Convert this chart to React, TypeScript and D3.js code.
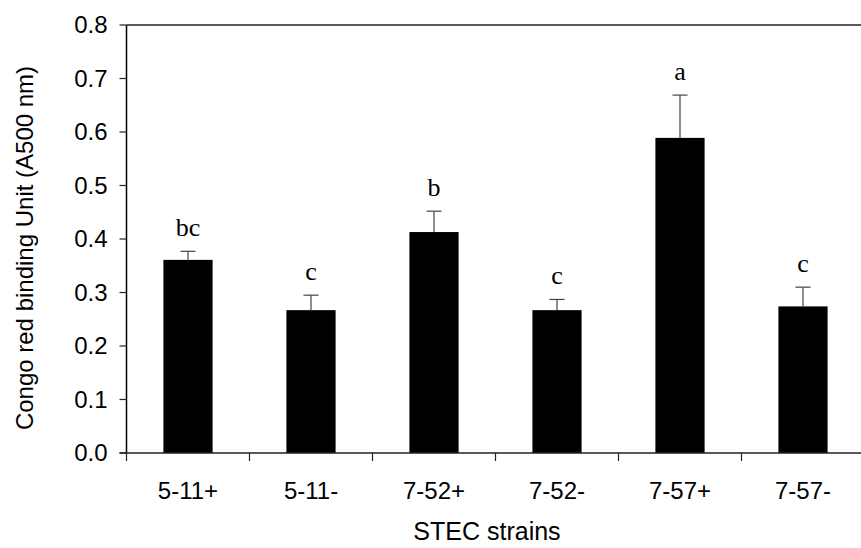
import React from "react";
import * as d3 from "d3";

const categories = ["5-11+", "5-11-", "7-52+", "7-52-", "7-57+", "7-57-"];
const means = [0.361, 0.267, 0.413, 0.267, 0.589, 0.274];
const errors = [0.016, 0.028, 0.039, 0.020, 0.080, 0.036];
const letters = ["bc", "c", "b", "c", "a", "c"];
const yTicks = [0, 0.1, 0.2, 0.3, 0.4, 0.5, 0.6, 0.7, 0.8];

const W = 861;
const H = 548;
const left = 126.5;
const top = 25;
const bottom = 453;
const step = 123;

export default function App() {
  const x = d3
    .scaleBand<string>()
    .domain(categories)
    .range([left, left + step * categories.length])
    .paddingInner(0.6)
    .paddingOuter(0.3);
  const y = d3.scaleLinear().domain([0, 0.8]).range([bottom, top]);
  const fmt = d3.format(".1f");
  const bw = x.bandwidth();
  const boundaries = d3.range(categories.length + 1).map((i) => left + i * step);

  return (
    <svg
      width={W}
      height={H}
      style={{ position: "absolute", left: 0, top: 0, background: "#fff" }}
      fontFamily="'Liberation Sans', Arial, sans-serif"
    >
      <rect x={0} y={0} width={W} height={H} fill="#fff" />
      {categories.map((c, i) => (
        <rect
          key={c}
          x={x(c)}
          y={y(means[i])}
          width={bw}
          height={bottom - y(means[i])}
          fill="#000"
        />
      ))}
      {categories.map((c, i) => {
        const cx = (x(c) as number) + bw / 2;
        const yt = y(means[i] + errors[i]);
        return (
          <g key={c + "e"} stroke="#444" strokeWidth={1.2}>
            <line x1={cx} x2={cx} y1={y(means[i])} y2={yt} />
            <line x1={cx - 7.5} x2={cx + 7.5} y1={yt} y2={yt} />
          </g>
        );
      })}
      {categories.map((c, i) => (
        <text
          key={c + "l"}
          x={(x(c) as number) + bw / 2}
          y={y(means[i] + errors[i]) - 15}
          textAnchor="middle"
          fontFamily="'Liberation Serif', 'Times New Roman', serif"
          fontSize={26}
          fill="#000"
        >
          {letters[i]}
        </text>
      ))}
      <line x1={left} x2={left} y1={top} y2={bottom} stroke="#000" strokeWidth={1.5} />
      <line x1={left} x2={W} y1={top} y2={top} stroke="#222" strokeWidth={1.5} />
      <line x1={left - 7} x2={W} y1={bottom} y2={bottom} stroke="#222" strokeWidth={1.5} />
      {yTicks.map((t) => (
        <g key={"yt" + t}>
          <line x1={left - 7} x2={left} y1={y(t)} y2={y(t)} stroke="#222" strokeWidth={1.2} />
          <text
            x={left - 19}
            y={y(t)}
            dy="0.35em"
            textAnchor="end"
            fontSize={24}
            fill="#000"
          >
            {fmt(t)}
          </text>
        </g>
      ))}
      {boundaries.map((b, i) => (
        <line key={"xt" + i} x1={b} x2={b} y1={bottom} y2={bottom + 8} stroke="#222" strokeWidth={1.2} />
      ))}
      {categories.map((c) => (
        <text
          key={c + "t"}
          x={(x(c) as number) + bw / 2}
          y={499}
          textAnchor="middle"
          fontSize={24}
          fill="#000"
        >
          {c}
        </text>
      ))}
      <text x={487} y={540} textAnchor="middle" fontSize={25} fill="#000">
        STEC strains
      </text>
      <text
        transform={`translate(33,248) rotate(-90)`}
        textAnchor="middle"
        fontSize={24}
        fill="#000"
      >
        Congo red binding Unit (A500 nm)
      </text>
    </svg>
  );
}
